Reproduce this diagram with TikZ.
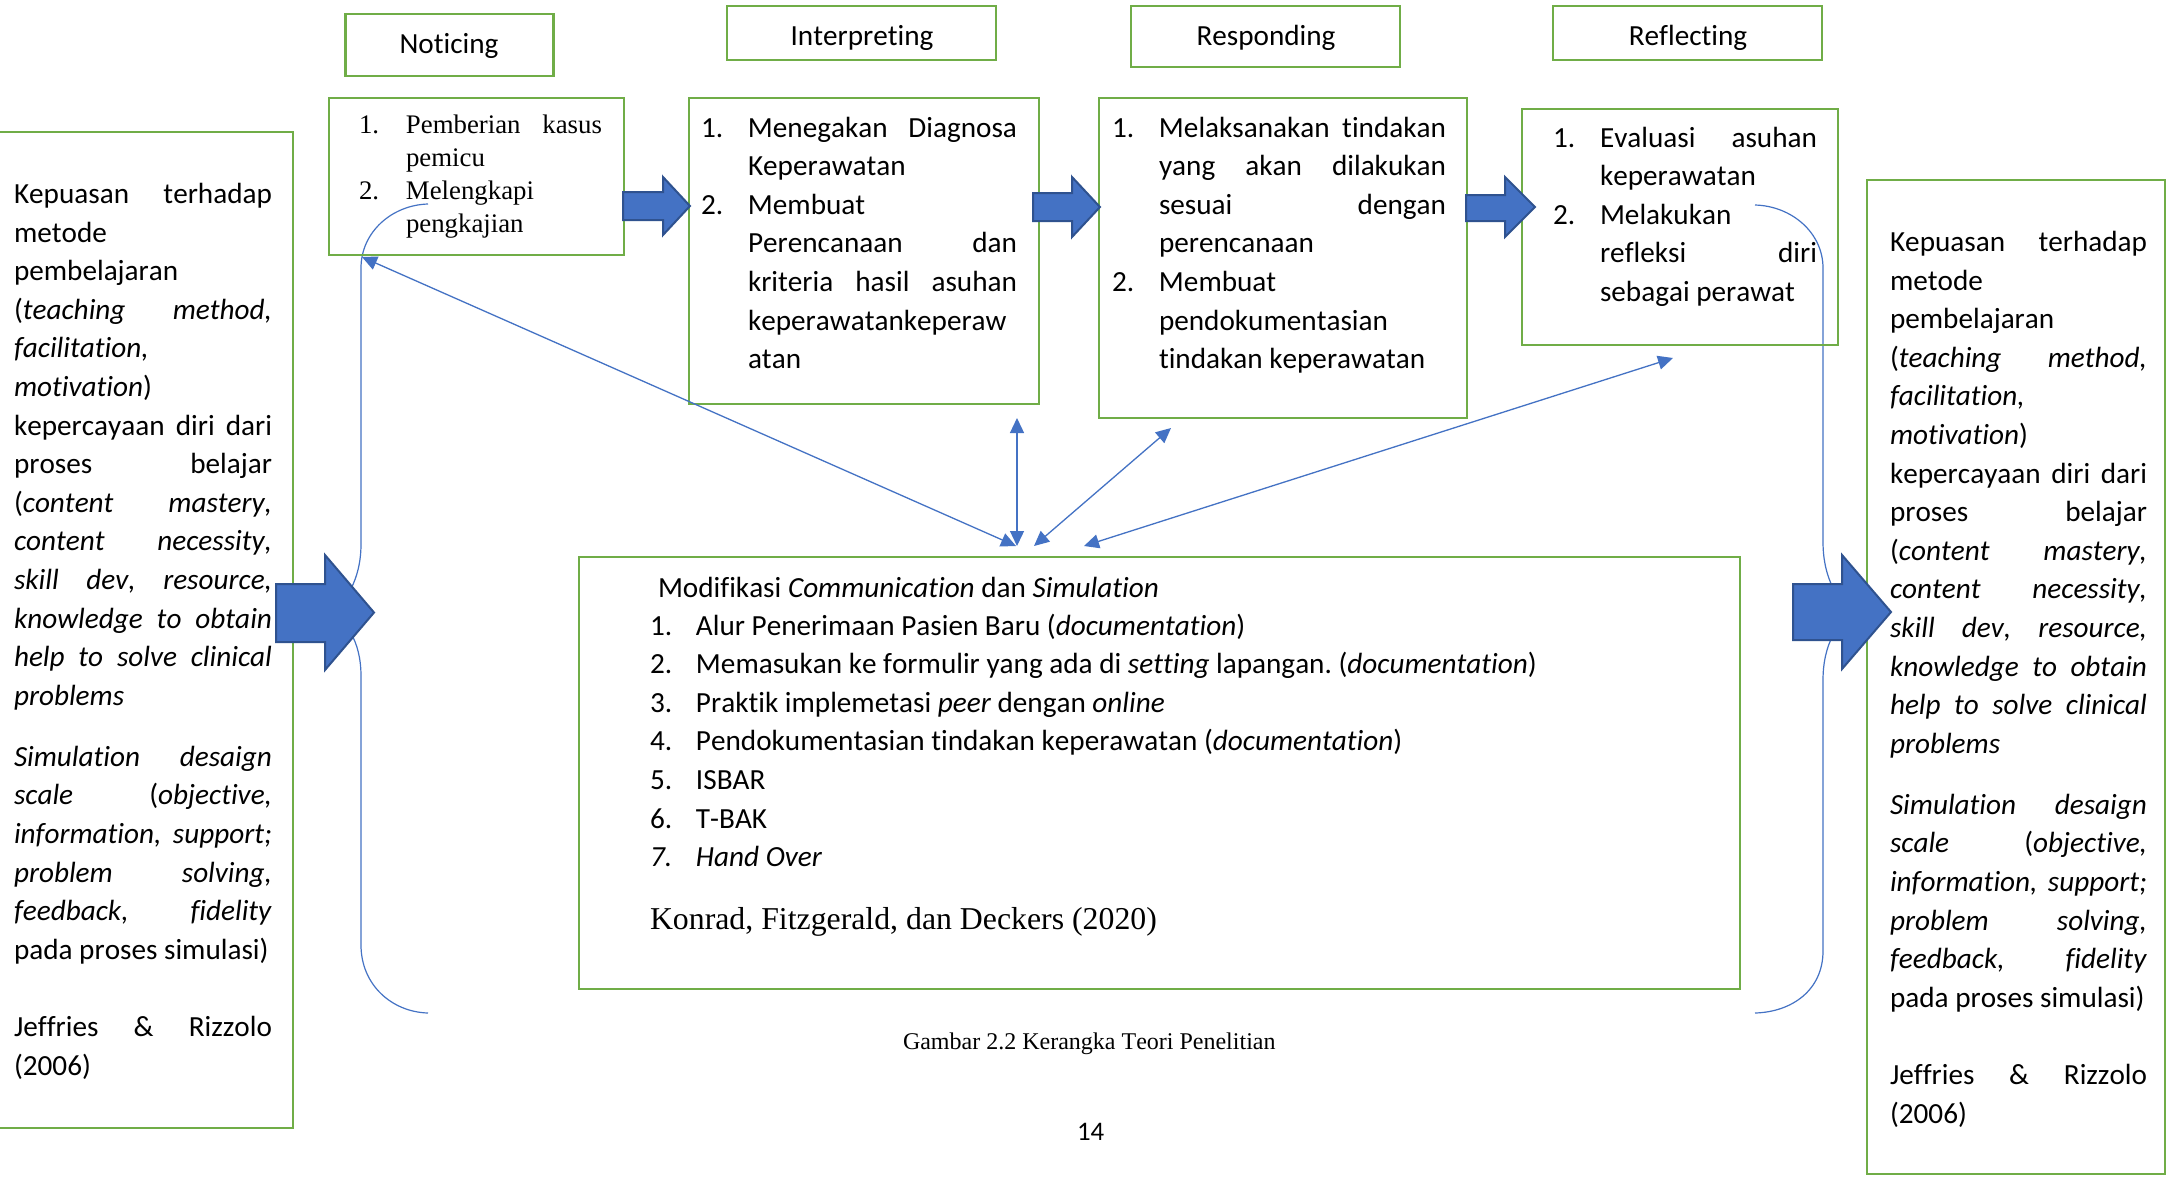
\documentclass[tikz,border=0pt]{standalone}
\usepackage{fontspec}
\setmainfont{Carlito}[Ligatures=NoCommon,Kerning=Off]
\newfontfamily\tms{Liberation Serif}[Ligatures=NoCommon,Kerning=Off]
\usetikzlibrary{arrows.meta}
\definecolor{grn}{HTML}{70AD47}
\definecolor{blu}{HTML}{4472C4}
\definecolor{bluedge}{HTML}{2F528F}
\frenchspacing
\newlength\numw
\newcommand{\Lsp}{\spaceskip=0pt\xspaceskip=0pt\relax}
\newcommand{\Ljust}[1]{\makebox[\linewidth][s]{\Lsp#1}}
\newcommand{\Lplain}[1]{\mbox{\Lsp#1}}
\newcommand{\Lnumj}[2]{\makebox[\numw][l]{#1}\makebox[\dimexpr\linewidth-\numw\relax][s]{\Lsp#2}}
\newcommand{\Lnumf}[2]{\makebox[\numw][l]{#1}\mbox{\Lsp#2}}
\newcommand{\Lindj}[1]{\hspace*{\numw}\makebox[\dimexpr\linewidth-\numw\relax][s]{\Lsp#1}}
\newcommand{\Lindf}[1]{\hspace*{\numw}\mbox{\Lsp#1}}
\tikzset{
  box/.style={draw=grn, line width=2.8pt, rectangle, inner sep=0pt, outer sep=0pt, anchor=north west},
  txt/.style={anchor=base west, inner sep=0pt, outer sep=0pt},
  body/.style={font=\fontsize{29.2}{38.6}\selectfont},
  hdr/.style={anchor=base, inner sep=0pt, font=\fontsize{29.2}{35}\selectfont},
  conn/.style={draw=blu, line width=1.3pt, >={Triangle[length=15pt,width=14pt]}, <->},
  bracel/.style={draw=blu, line width=1.2pt},
  blockarr/.style={fill=blu, draw=bluedge, line width=2pt, line join=miter},
}
\begin{document}
\begin{tikzpicture}[x=1pt,y=-1pt]
\useasboundingbox (0,0) rectangle (2168,1176);
\fill[white] (0,0) rectangle (2168,1176);

% braces (behind)
\draw[bracel] (428,204) .. controls (392,205) and (361,232) .. (361,268) -- (361,544)
  .. controls (361,580) and (345,605) .. (328,612)
  .. controls (345,619) and (361,640) .. (361,676) -- (361,945)
  .. controls (361,985) and (392,1012) .. (428,1013);
\draw[bracel] (1755,205) .. controls (1792,206) and (1823,233) .. (1823,268) -- (1823,542)
  .. controls (1823,578) and (1838,603) .. (1855,612)
  .. controls (1838,621) and (1823,644) .. (1823,680) -- (1823,951)
  .. controls (1823,990) and (1792,1012) .. (1755,1013);

% header boxes
\node[box, minimum width=208pt, minimum height=62pt] (hN) at (345.5,14) {};
\node[box, minimum width=269pt, minimum height=54pt] (hI) at (727,6) {};
\node[box, minimum width=269pt, minimum height=61pt] (hR) at (1131,6) {};
\node[box, minimum width=269pt, minimum height=54pt] (hF) at (1553,6) {};
\node[hdr] (tN) at (449,53) {Noticing};
\node[hdr] (tI) at (862,45) {Interpreting};
\node[hdr] (tR) at (1266,45) {Responding};
\node[hdr] (tF) at (1688,45) {Reflecting};

% content boxes
\node[box, minimum width=295pt, minimum height=157pt] (cN) at (329,98) {};
\node[box, minimum width=350pt, minimum height=306pt] (cI) at (689,98) {};
\node[box, minimum width=368pt, minimum height=320pt] (cR) at (1099,98) {};
\node[box, minimum width=316pt, minimum height=236pt] (cF) at (1522,109) {};
\node[box, minimum width=303pt, minimum height=996pt] (L) at (-10,132) {};
\node[box, minimum width=298pt, minimum height=994pt] (R) at (1867,180) {};
\node[box, minimum width=1161pt, minimum height=432pt] (M) at (579,557) {};

% Noticing text
\node[txt, text width=243pt, font=\tms\fontsize{26.8}{33}\selectfont] (xN) at (359,133) {\setlength\numw{47pt}%
\Lnumj{1.}{Pemberian kasus}\\
\Lindf{pemicu}\\
\Lnumf{2.}{Melengkapi}\\
\Lindf{pengkajian}};

% Interpreting text
\node[txt, body, text width=316pt] (xI) at (701,137) {\setlength\numw{47pt}%
\Lnumj{1.}{Menegakan Diagnosa}\\
\Lindf{Keperawatan}\\
\Lnumf{2.}{Membuat}\\
\Lindj{Perencanaan dan}\\
\Lindj{kriteria hasil asuhan}\\
\Lindf{keperawatankeperaw}\\
\Lindf{atan}};

% Responding text
\node[txt, body, text width=334pt] (xR) at (1112,137) {\setlength\numw{47pt}%
\Lnumj{1.}{Melaksanakan tindakan}\\
\Lindj{yang akan dilakukan}\\
\Lindj{sesuai dengan}\\
\Lindf{perencanaan}\\
\Lnumf{2.}{Membuat}\\
\Lindf{pendokumentasian}\\
\Lindf{tindakan keperawatan}};

% Reflecting text
\node[txt, body, text width=264pt] (xF) at (1553,147) {\setlength\numw{47pt}%
\Lnumj{1.}{Evaluasi asuhan}\\
\Lindf{keperawatan}\\
\Lnumf{2.}{Melakukan}\\
\Lindj{refleksi diri}\\
\Lindf{sebagai perawat}};

% side texts
\node[txt, body, text width=258pt] (xL) at (14,203.4) {%
\Ljust{Kepuasan terhadap}\\
\Lplain{metode}\\
\Lplain{pembelajaran}\\
\Ljust{(\textit{teaching method,}}\\
\Lplain{\textit{facilitation,}}\\
\Lplain{\textit{motivation})}\\
\Ljust{kepercayaan diri dari}\\
\Ljust{proses belajar}\\
\Ljust{(\textit{content mastery,}}\\
\Ljust{\textit{content necessity,}}\\
\Ljust{\textit{skill dev, resource,}}\\
\Ljust{\textit{knowledge to obtain}}\\
\Ljust{\textit{help to solve clinical}}\\
\Lplain{\textit{problems}}\\[22.4pt]
\Ljust{\textit{Simulation desaign}}\\
\Ljust{\textit{scale} (\textit{objective,}}\\
\Ljust{\textit{information, support;}}\\
\Ljust{\textit{problem solving,}}\\
\Ljust{\textit{feedback, fidelity}}\\
\Lplain{pada proses simulasi)}\\[38.6pt]
\Ljust{Jeffries \& Rizzolo}\\
\Lplain{(2006)}};

\node[txt, body, text width=257pt] (xRt) at (1890,251.5) {%
\Ljust{Kepuasan terhadap}\\
\Lplain{metode}\\
\Lplain{pembelajaran}\\
\Ljust{(\textit{teaching method,}}\\
\Lplain{\textit{facilitation,}}\\
\Lplain{\textit{motivation})}\\
\Ljust{kepercayaan diri dari}\\
\Ljust{proses belajar}\\
\Ljust{(\textit{content mastery,}}\\
\Ljust{\textit{content necessity,}}\\
\Ljust{\textit{skill dev, resource,}}\\
\Ljust{\textit{knowledge to obtain}}\\
\Ljust{\textit{help to solve clinical}}\\
\Lplain{\textit{problems}}\\[22.4pt]
\Ljust{\textit{Simulation desaign}}\\
\Ljust{\textit{scale} (\textit{objective,}}\\
\Ljust{\textit{information, support;}}\\
\Ljust{\textit{problem solving,}}\\
\Ljust{\textit{feedback, fidelity}}\\
\Lplain{pada proses simulasi)}\\[38.6pt]
\Ljust{Jeffries \& Rizzolo}\\
\Lplain{(2006)}};

% middle text
\node[txt, body] (xMt) at (658,597) {Modifikasi \textit{Communication} dan \textit{Simulation}};
\node[txt, body, text width=1050pt] (xM) at (650,635) {\setlength\numw{46pt}%
\Lnumf{1.}{Alur Penerimaan Pasien Baru (\textit{documentation})}\\
\Lnumf{2.}{Memasukan ke formulir yang ada di \textit{setting} lapangan. (\textit{documentation})}\\
\Lnumf{3.}{Praktik implemetasi \textit{peer} dengan \textit{online}}\\
\Lnumf{4.}{Pendokumentasian tindakan keperawatan (\textit{documentation})}\\
\Lnumf{5.}{ISBAR}\\
\Lnumf{6.}{T-BAK}\\
\Lnumf{\textit{7.}}{\textit{Hand Over}}};
\node[txt, font=\tms\fontsize{31.8}{38}\selectfont] (xK) at (650,929) {Konrad, Fitzgerald, dan Deckers (2020)};

% caption and page number
\node[txt, font=\tms\fontsize{24}{28}\selectfont] (cap) at (903,1049) {Gambar 2.2 Kerangka Teori Penelitian};
\node[txt, font=\fontsize{26.8}{30}\selectfont] (pg) at (1077,1140) {14};

% thin double arrows
\coordinate (a1) at (362,257);
\coordinate (b1) at (1016,546);
\coordinate (a2) at (1017,418);
\coordinate (b2) at (1017,546);
\coordinate (a3) at (1171,428);
\coordinate (b3) at (1034,546);
\coordinate (a4) at (1673,358);
\coordinate (b4) at (1084,546);
\draw[conn] (a1) -- (b1);
\draw[conn] (a2) -- (b2);
\draw[conn] (a3) -- (b3);
\draw[conn] (a4) -- (b4);

% block arrows
\draw[blockarr] (623,192) -- (663,192) -- (663,177) -- (690,206) -- (663,235) -- (663,220) -- (623,220) -- cycle;
\draw[blockarr] (1033,193) -- (1072,193) -- (1072,177) -- (1100,207) -- (1072,237) -- (1072,221) -- (1033,221) -- cycle;
\draw[blockarr] (1466,195) -- (1505,195) -- (1505,177) -- (1535,207) -- (1505,237) -- (1505,221) -- (1466,221) -- cycle;
\draw[blockarr] (276,584) -- (325,584) -- (325,555) -- (374,612.5) -- (325,670) -- (325,642) -- (276,642) -- cycle;
\draw[blockarr] (1793,584) -- (1842,584) -- (1842,555) -- (1891,612) -- (1842,669) -- (1842,640) -- (1793,640) -- cycle;
\end{tikzpicture}
\end{document}
